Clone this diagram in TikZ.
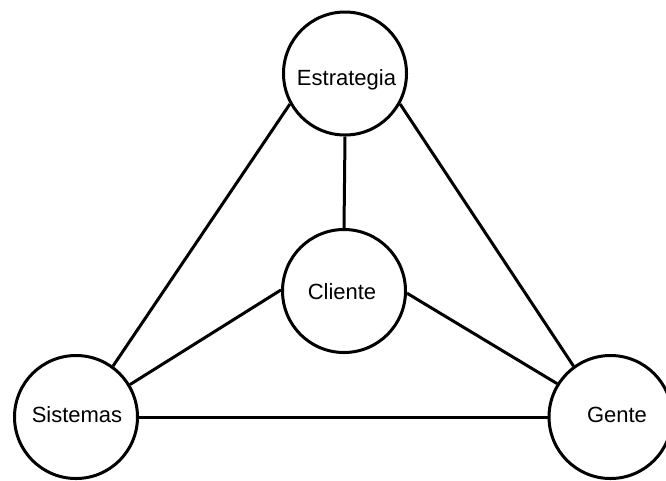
\documentclass[tikz,border=0pt]{standalone}
\usepackage{fontspec}
\setmainfont{Liberation Sans}
\begin{document}
\begin{tikzpicture}[x=0.75pt,y=-0.75pt,
  ring/.style={circle,draw=black,line width=2.25pt,minimum size=92.25pt,inner sep=0pt,fill=white},
  lbl/.style={anchor=base,inner sep=0pt,font=\fontsize{16.5pt}{19pt}\selectfont},
  link/.style={line width=2.25pt,draw=black}]
\useasboundingbox[fill=white] (0,0) rectangle (666,480);
\node[ring] (E) at (345,73.5) {};
\node[ring] (C) at (344,291) {};
\node[ring] (S) at (76,417) {};
\node[ring] (G) at (610.5,417) {};
\node[lbl] (tE) at (346.5,85) {Estrategia};
\node[lbl] (tC) at (342,299) {Cliente};
\node[lbl] (tS) at (77,422) {Sistemas};
\node[lbl] (tG) at (617,422.5) {Gente};
\draw[link] (E.south) -- (C.north);
\draw[link] (E.209) -- (S.54);
\draw[link] (E.331) -- (G.126);
\draw[link] (C.179) -- (S.31);
\draw[link] (C.358) -- (G.148);
\draw[link] (S.east) -- (G.west);
\end{tikzpicture}
\end{document}
